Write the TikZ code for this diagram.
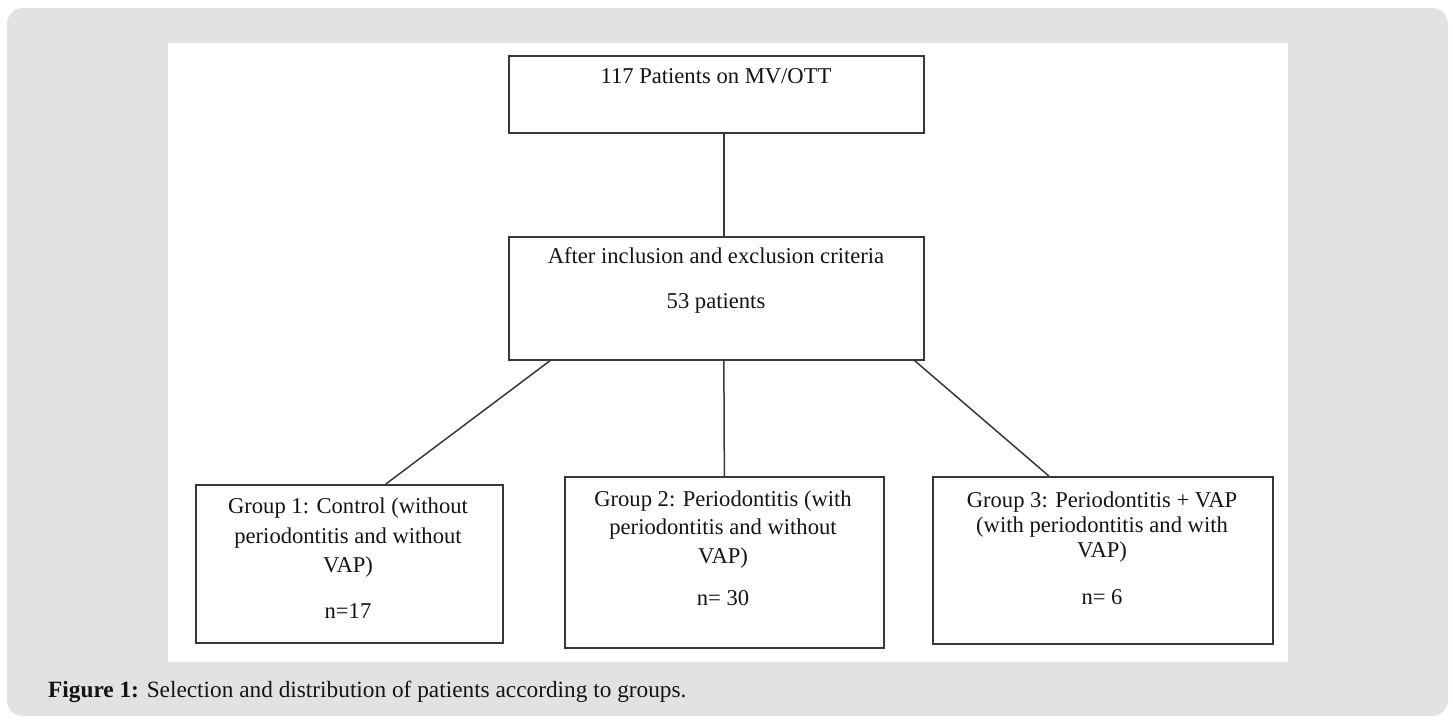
\documentclass[tikz,border=0pt]{standalone}
\usepackage{fontspec}
\setmainfont{Liberation Serif}
\definecolor{bggray}{HTML}{E2E2E2}
\definecolor{boxline}{HTML}{383838}
\definecolor{textcol}{HTML}{141414}
\begin{document}
\begin{tikzpicture}[x=1pt,y=-1pt,
  box/.style={draw=boxline, line width=1.7pt, inner sep=0pt, anchor=north west, fill=white},
  conn/.style={draw=boxline, line width=1.5pt},
  txt/.style={font=\fontsize{22.6}{28}\selectfont, text=textcol, inner sep=0pt, anchor=base},
  captxt/.style={font=\fontsize{23.3}{28}\selectfont, text=textcol, inner sep=0pt, anchor=base west}]
\useasboundingbox (0,0) rectangle (1453,721);
\fill[white] (0,0) rectangle (1453,721);
\fill[bggray, rounded corners=16pt] (7,8) rectangle (1448,716);
\fill[white] (168,43) rectangle (1288,662);

% boxes
\node[box, minimum width=415pt, minimum height=77pt] (b1) at (508,55) {};
\node[box, minimum width=415pt, minimum height=123pt] (b2) at (508,236) {};
\node[box, minimum width=307pt, minimum height=158pt] (g1) at (195,484) {};
\node[box, minimum width=319pt, minimum height=171pt] (g2) at (564,476) {};
\node[box, minimum width=340pt, minimum height=167pt] (g3) at (932,476) {};

% texts
\node[txt] (t1) at (716,83) {117 Patients on MV/OTT};
\node[txt] (t2a) at (716,263) {After inclusion and exclusion criteria};
\node[txt] (t2b) at (716,308) {53 patients};

\node[txt] (g1a) at (348,513) {Group 1: Control (without};
\node[txt] (g1b) at (348,543) {periodontitis and without};
\node[txt] (g1c) at (348,572) {VAP)};
\node[txt] (g1n) at (348,618) {n=17};

\node[txt] (g2a) at (723,506) {Group 2: Periodontitis (with};
\node[txt] (g2b) at (723,534) {periodontitis and without};
\node[txt] (g2c) at (723,563) {VAP)};
\node[txt] (g2n) at (723,605) {n= 30};

\node[txt] (g3a) at (1102,507) {Group 3: Periodontitis + VAP};
\node[txt] (g3b) at (1102,532) {(with periodontitis and with};
\node[txt] (g3c) at (1102,557) {VAP)};
\node[txt] (g3n) at (1102,604) {n= 6};

% connectors
\draw[conn] ([xshift=7.5pt]b1.south) -- ([xshift=7.5pt]b2.north);
\draw[conn] ([xshift=42pt]b2.south west) -- ([xshift=36.5pt]g1.north);
\draw[conn] ([xshift=7.5pt]b2.south) -- (g2.north);
\draw[conn] ([xshift=-10pt]b2.south east) -- ([xshift=-54pt]g3.north);

% caption
\node[captxt] (cap) at (48,697) {\textbf{Figure 1:} Selection and distribution of patients according to groups.};
\end{tikzpicture}
\end{document}
